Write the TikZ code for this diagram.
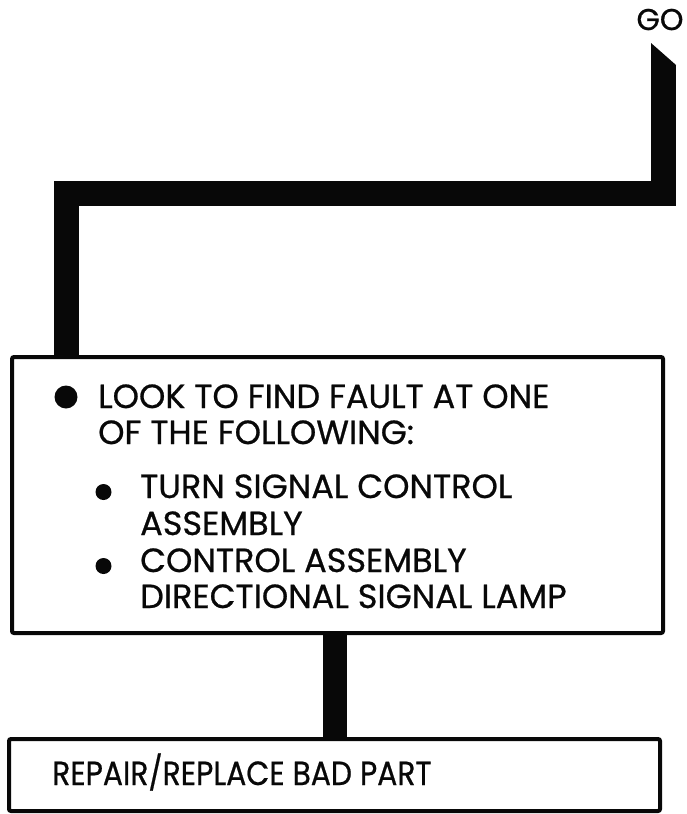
\documentclass[tikz,border=0pt]{standalone}
\usepackage{graphicx}
\usepackage{fontspec}
\setmainfont{Poppins}[FakeBold=0.7]
\usetikzlibrary{calc,positioning}
\definecolor{Ink}{HTML}{080808}
\tikzset{
  box/.style={draw=Ink, line width=4pt, rounded corners=2pt, inner sep=0pt},
  flow/.style={draw=Ink, line width=25pt, line join=miter},
  caps/.style={font=\fontsize{33.5}{40}\selectfont, text=Ink, anchor=base west, inner sep=0pt},
}
\NewDocumentCommand{\BigDot}{O{(0,0)}}{\fill[Ink] #1 circle (11.5pt);}
\NewDocumentCommand{\SmallDot}{O{(0,0)}}{\fill[Ink] #1 circle (8pt);}

\begin{document}
\begin{tikzpicture}[x=1pt, y=-1pt]
\useasboundingbox (0,0) rectangle (686,814);

\node[caps, font=\fontsize{30}{36}\selectfont, anchor=base] (go) at (660,30) {GO};

\node[box, minimum width=651pt, minimum height=276pt] (look) at (337.5,495) {};
\node[box, minimum width=651pt, minimum height=72pt] (repair) at (334.5,775) {};

\coordinate (go-tip) at (663.5,65);
\coordinate (top-run) at (66.5,193);

% start of the line under GO
\fill[Ink] (651,43) -- (676,65) -- (651,65) -- cycle;
\draw[flow] (go-tip) |- (top-run) -- (top-run |- look.north);
\draw[flow, line width=24pt] ([xshift=-2.5pt]look.south) -- ([xshift=-2.5pt]look.south |- repair.north);

\BigDot[(66,397)]
\node[caps] (look-1) at (98,408) {LOOK TO FIND FAULT AT ONE};
\node[caps] (look-2) at (98,444) {OF THE FOLLOWING:};

\SmallDot[(103.5,492)]
\node[caps] (part-1a) at (140,498) {TURN SIGNAL CONTROL};
\node[caps] (part-1b) at (140,535) {ASSEMBLY};
\SmallDot[(103.5,566)]
\node[caps] (part-2a) at (140,572) {CONTROL ASSEMBLY};
\node[caps] (part-2b) at (140,608) {DIRECTIONAL SIGNAL LAMP};

\node[caps] (repair-text) at (52,785) {\scalebox{0.89}[1]{REPAIR/REPLACE BAD PART}};
\end{tikzpicture}
\end{document}
